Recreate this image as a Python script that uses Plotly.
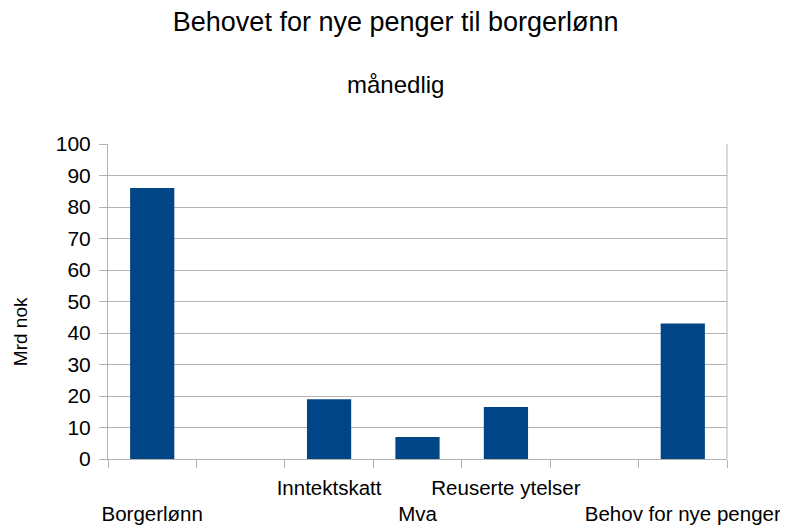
import plotly.graph_objects as go

# kategorier (to tomme plasser i diagrammet)
kategorier = ["Borgerlønn", "tom1", "Inntektskatt", "Mva", "Reuserte ytelser", "tom2", "Behov for nye penger"]
etiketter = ["<br>Borgerlønn", "", "Inntektskatt", "<br>Mva", "Reuserte ytelser", "", "<br>Behov for nye penger"]
verdier = [86, None, 19, 7, 16.5, None, 43]
y_ticks = [0, 10, 20, 30, 40, 50, 60, 70, 80, 90, 100]

fig = go.Figure()

fig.add_trace(go.Bar(
    x=kategorier,
    y=verdier,
    marker=dict(color="#004586", line=dict(width=0)),
    showlegend=False,
))

# siden har 8px kant rundt figuren, derfor litt mindre marger
fig.update_layout(
    width=788,
    height=531,
    margin=dict(l=100, r=69, t=136, b=80),
    plot_bgcolor="white",
    paper_bgcolor="white",
    bargap=0.5,
    font=dict(family="Liberation Sans, Arial, sans-serif", color="#000000"),
    title=dict(
        text="Behovet for nye penger til borgerlønn",
        x=0.492, xref="container", xanchor="center",
        y=0.974, yref="container", yanchor="middle",
        font=dict(size=27),
    ),
    annotations=[
        dict(text="månedlig", x=0.464, y=1.19, xref="paper", yref="paper",
             showarrow=False, font=dict(size=24), xanchor="center", yanchor="middle"),
        # y-aksetittel, litt under midten som i originalen
        dict(text="Mrd nok", x=-0.142, y=0.403, xref="paper", yref="paper",
             textangle=-90, showarrow=False, font=dict(size=19),
             xanchor="center", yanchor="middle"),
    ],
)

fig.update_xaxes(
    type="category",
    categoryorder="array",
    categoryarray=kategorier,
    tickvals=kategorier,
    ticktext=etiketter,
    tickson="boundaries",
    tickangle=0,
    automargin=False,
    ticks="outside",
    ticklen=8,
    tickcolor="#b3b3b3",
    showline=True,
    linecolor="#b3b3b3",
    showgrid=False,
    tickfont=dict(size=20.5),
    ticklabelstandoff=10,
)

fig.update_yaxes(
    range=[0, 100],
    tickvals=y_ticks,
    automargin=False,
    ticks="outside",
    ticklen=8,
    tickcolor="#b3b3b3",
    showline=True,
    linecolor="#b3b3b3",
    showgrid=True,
    gridcolor="#b3b3b3",
    tickfont=dict(size=21),
    ticklabelstandoff=4,
    zeroline=False,
)

# høyre kant på plottet
fig.add_shape(type="line", xref="paper", yref="paper", x0=1, x1=1, y0=0, y1=1,
              line=dict(color="#b3b3b3", width=1))

fig.write_html("out.html")
